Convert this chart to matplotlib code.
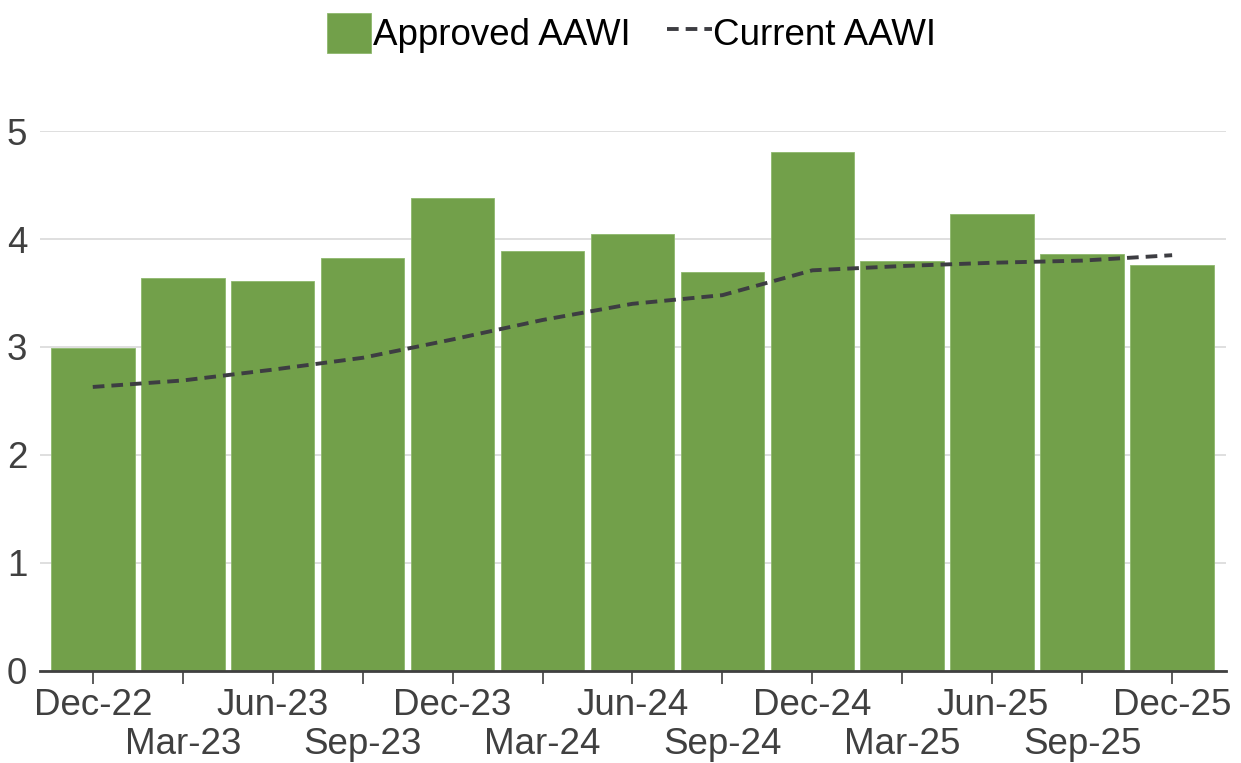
import numpy as np
import matplotlib
matplotlib.use("Agg")
import matplotlib.pyplot as plt

# data
quarters = ["Dec-22", "Mar-23", "Jun-23", "Sep-23", "Dec-23", "Mar-24", "Jun-24",
            "Sep-24", "Dec-24", "Mar-25", "Jun-25", "Sep-25", "Dec-25"]
approved_aawi = [2.99, 3.64, 3.61, 3.82, 4.38, 3.89, 4.05,
                 3.69, 4.81, 3.80, 4.23, 3.86, 3.76]
current_aawi = [2.63, 2.69, 2.79, 2.90, 3.07, 3.25, 3.40,
                3.48, 3.71, 3.75, 3.78, 3.80, 3.85]

plt.rcParams["font.family"] = ["Liberation Sans", "DejaVu Sans"]
fs = 26.5
txt_col = "#404040"

fig = plt.figure(figsize=(12.41, 7.63), dpi=100)
ax = fig.add_axes([0.032, 0.1206, 0.956, 0.7077])

x = np.arange(len(quarters))
bars = ax.bar(x, approved_aawi, width=0.93, color="#72A04A", edgecolor="#8db86c",
              linewidth=0.6, label="Approved AAWI", zorder=2)
line, = ax.plot(x, current_aawi, color="#3d3d42", lw=2.8, dashes=(3, 1.8),
                label="Current AAWI", zorder=3)

ax.set_xlim(-0.59, 12.6)
ax.set_ylim(0, 5.0)
ax.set_yticks(np.arange(0, 6, 1))
ax.grid(axis="y", color="#d9d9d9", lw=1.2, zorder=0)
ax.set_axisbelow(True)

# labels staggered on two rows: even quarters as major, odd as minor ticks
ax.set_xticks(x[::2])
ax.set_xticklabels(quarters[::2])
ax.set_xticks(x[1::2], minor=True)
ax.set_xticklabels(quarters[1::2], minor=True)
ax.tick_params(axis="x", which="both", length=9, width=1.2, color=txt_col,
               labelsize=fs, labelcolor=txt_col)
ax.tick_params(axis="x", which="major", pad=3)
ax.tick_params(axis="x", which="minor", pad=31)
ax.tick_params(axis="y", length=0, labelsize=fs, labelcolor=txt_col, pad=9)

for s in ["top", "right", "left"]:
    ax.spines[s].set_visible(False)
ax.spines["bottom"].set_color(txt_col)
ax.spines["bottom"].set_linewidth(2)

fig.legend(handles=[bars, line], loc="upper center", bbox_to_anchor=(0.509, 1.027),
           ncol=2, frameon=False, fontsize=fs, handlelength=1.2, handleheight=1.3,
           handletextpad=0.05, columnspacing=1.0)

fig.savefig("out.png", dpi=100)
plt.close()
